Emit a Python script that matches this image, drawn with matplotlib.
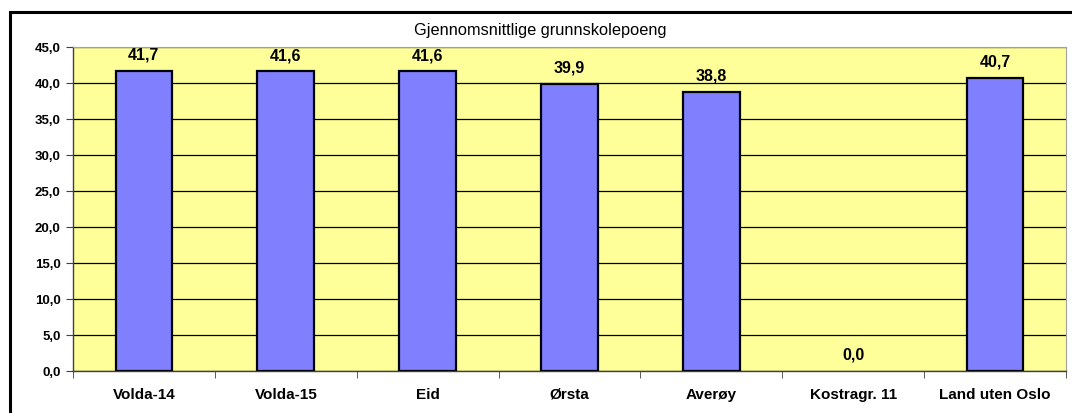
import matplotlib.pyplot as plt
from matplotlib.patches import Rectangle

categories = ["Volda-14", "Volda-15", "Eid", "Ørsta", "Averøy", "Kostragr. 11", "Land uten Oslo"]
values = [41.7, 41.6, 41.6, 39.9, 38.8, 0.0, 40.7]
yticks = [0, 5, 10, 15, 20, 25, 30, 35, 40, 45]
title = "Gjennomsnittlige grunnskolepoeng"

plt.rcParams['font.family'] = ['Liberation Sans', 'DejaVu Sans']

W, H = 1072, 413
fig = plt.figure(figsize=(W / 100, H / 100), dpi=100)
fig.patch.set_facecolor("white")

# outer chart frame (cut off at right and bottom in the reference)
fig.patches.append(Rectangle((10 / W, -0.05), 1.1, (H - 12) / H + 0.05, transform=fig.transFigure,
                             fill=False, edgecolor="black", linewidth=2.2))

ax = fig.add_axes([73 / W, (H - 371) / H, (1066 - 73) / W, (371 - 47) / H])
ax.set_facecolor("#FFFF99")

x = list(range(len(categories)))
# empty bars get no outline, as in the source
edge_w = [1.6 if v > 0 else 0 for v in values]
ax.bar(x, values, width=0.4, color="#8080FF", edgecolor="black", linewidth=edge_w, zorder=3)
for xi, v in zip(x, values):
    ax.annotate(f"{v:.1f}".replace(".", ","), (xi, v), xytext=(0, 6), textcoords="offset points",
                ha="center", va="bottom", fontsize=11.5, fontweight="bold")

ax.set_xlim(-0.5, len(categories) - 0.5)
ax.set_ylim(0, 45)
ax.set_yticks(yticks)
ax.set_yticklabels([f"{t:.1f}".replace(".", ",") for t in yticks], fontsize=9.5, fontweight="bold")
ax.yaxis.grid(True, color="black", linewidth=0.9, zorder=1)
ax.set_axisbelow(True)

ax.set_xticks(x)
ax.set_xticklabels(categories, fontsize=11, fontweight="bold")
ax.tick_params(axis="x", length=0, pad=12)
ax.set_xticks([i - 0.5 for i in range(len(categories) + 1)], minor=True)
ax.tick_params(axis="x", which="minor", length=5, color="#404040", direction="out")
ax.tick_params(axis="y", length=5, color="#404040", direction="out", pad=4)

for side in ["top", "right"]:
    ax.spines[side].set_color("#A0A0A0")
    ax.spines[side].set_linewidth(0.8)
for side in ["left", "bottom"]:
    ax.spines[side].set_color("#404040")
    ax.spines[side].set_linewidth(1.0)

fig.text(540 / W, 1 - 31 / H, title, ha="center", va="center", fontsize=11.8)

fig.savefig("out.png", dpi=100)
